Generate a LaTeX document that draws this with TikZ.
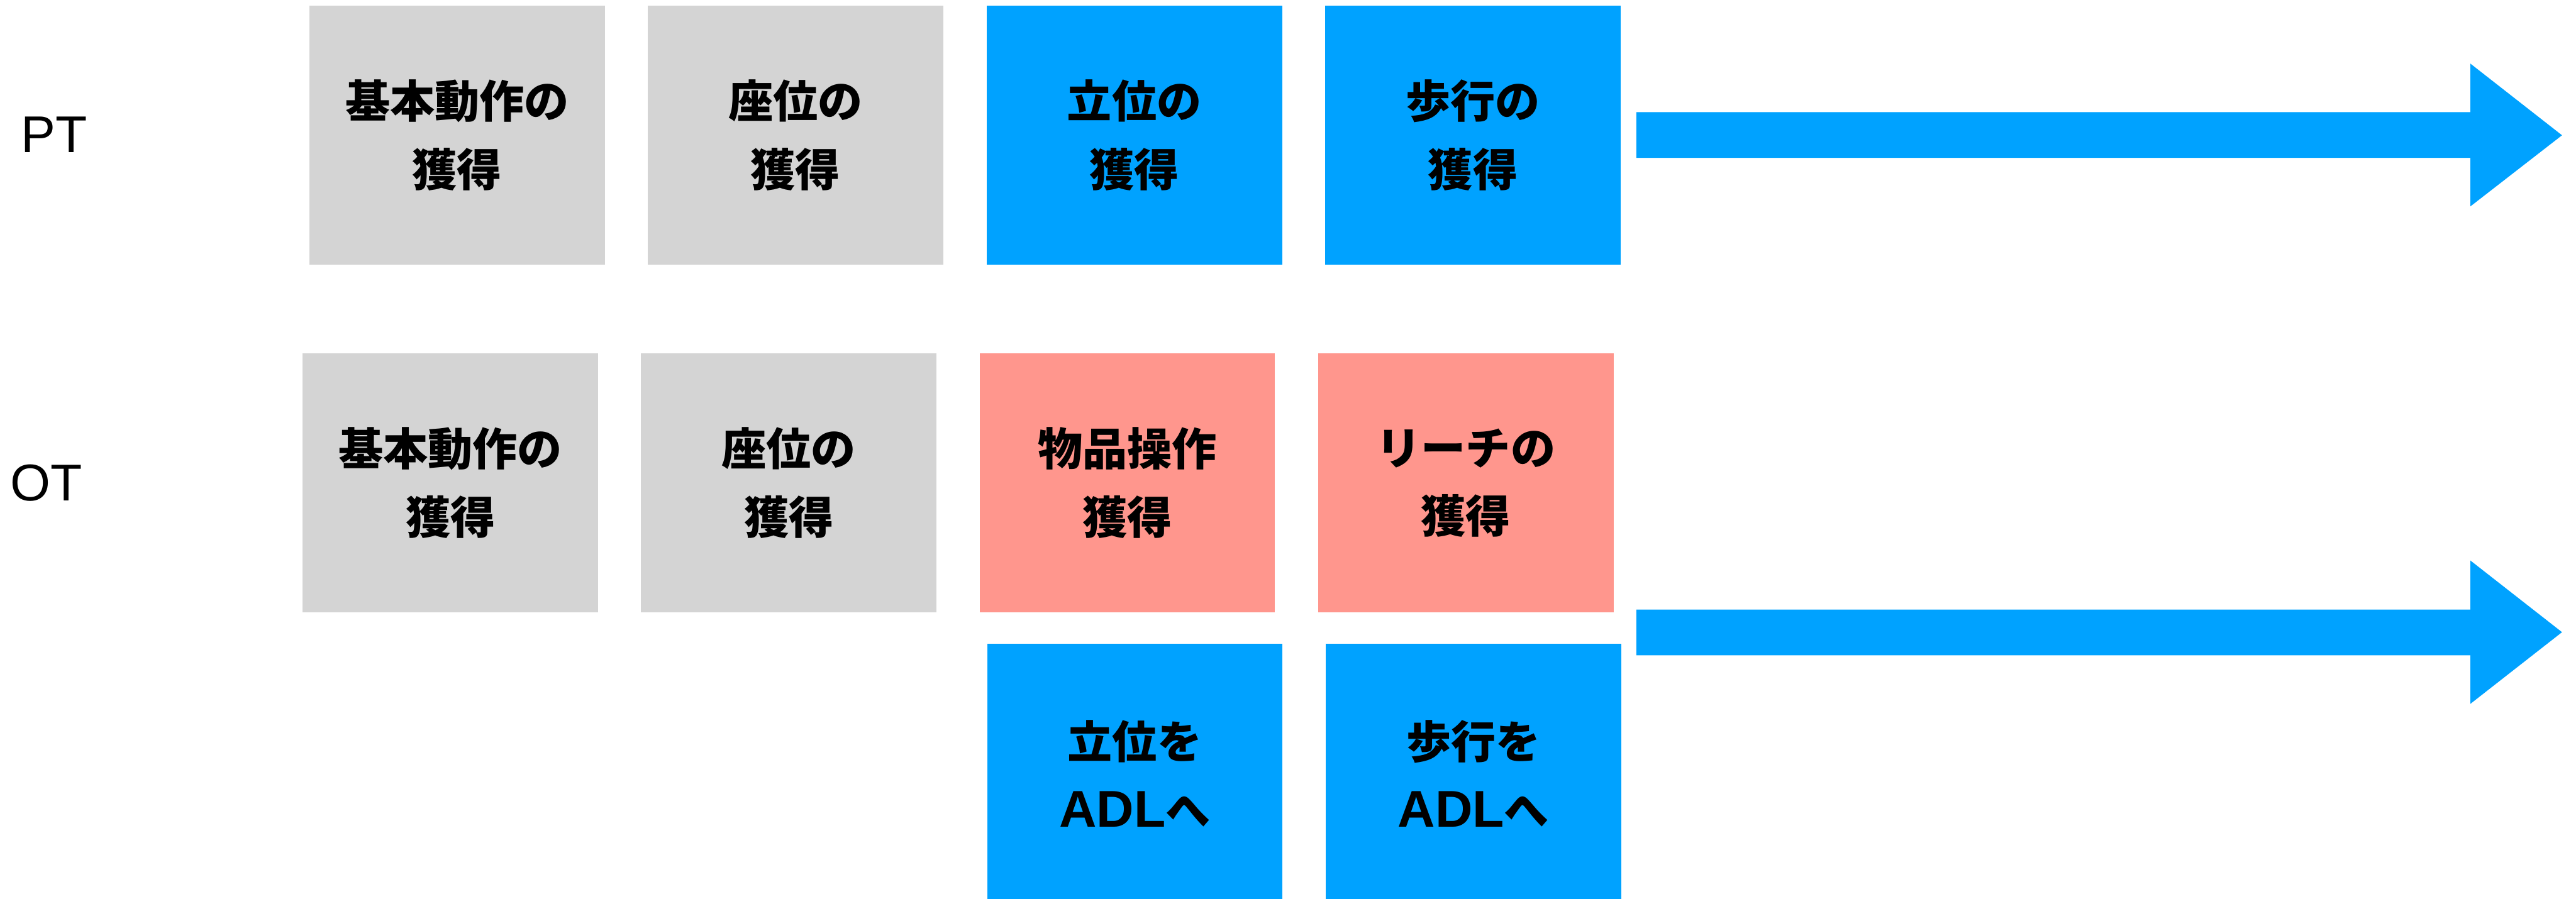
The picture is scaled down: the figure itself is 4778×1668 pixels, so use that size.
\documentclass[tikz,border=0pt]{standalone}
\usepackage{fontspec}
\newfontfamily\jp{Noto Sans CJK JP}
\newfontfamily\latin{Liberation Sans}
\definecolor{boxgray}{HTML}{D4D4D4}
\definecolor{boxblue}{HTML}{00A2FF}
\definecolor{boxpink}{HTML}{FF968D}
\newcommand{\adl}{{\latin\fontsize{96pt}{127pt}\selectfont ADL}}
\tikzset{
  stagebox/.style={minimum width=548pt, minimum height=480pt, inner sep=0pt, align=center,
    font=\jp\bfseries\fontsize{83pt}{127pt}\selectfont, text=black},
  graybox/.style={stagebox, fill=boxgray},
  bluebox/.style={stagebox, fill=boxblue},
  pinkbox/.style={stagebox, fill=boxpink},
  rowlabel/.style={inner sep=0pt, font=\latin\fontsize{96pt}{110pt}\selectfont},
  bigarrow/.style={fill=boxblue, draw=none}
}
\begin{document}
\begin{tikzpicture}[x=1pt, y=-1pt]
\clip (0,0) rectangle (4778,1668);
\useasboundingbox (0,0) rectangle (4778,1668);
% row labels
\node[rowlabel] (pt) at (100,250) {PT};
\node[rowlabel] (ot) at (86,896) {OT};
% PT row
\node[graybox] (p1) at (848,251) {基本動作の\\獲得};
\node[graybox] (p2) at (1475.5,251) {座位の\\獲得};
\node[bluebox] (p3) at (2104,251) {立位の\\獲得};
\node[bluebox] (p4) at (2732,251) {歩行の\\獲得};
% OT row
\node[graybox] (o1) at (835.5,896) {基本動作の\\獲得};
\node[graybox] (o2) at (1463,896) {座位の\\獲得};
\node[pinkbox] (o3) at (2091,896) {物品操作\\獲得};
\node[pinkbox] (o4) at (2719,896) {リーチの\\獲得};
% OT lower row
\node[bluebox] (l1) at (2105,1435) {立位を\\\adl へ};
\node[bluebox] (l2) at (2733,1435) {歩行を\\\adl へ};
% arrows
\coordinate (a1t) at (4752,251);
\fill[bigarrow] (3035,208) -- (4582,208) -- (4582,118) -- (a1t) -- (4582,383) -- (4582,293) -- (3035,293) -- cycle;
\coordinate (a2t) at (4752,1173);
\fill[bigarrow] (3035,1131) -- (4582,1131) -- (4582,1040) -- (a2t) -- (4582,1306) -- (4582,1216) -- (3035,1216) -- cycle;
\end{tikzpicture}
\end{document}
